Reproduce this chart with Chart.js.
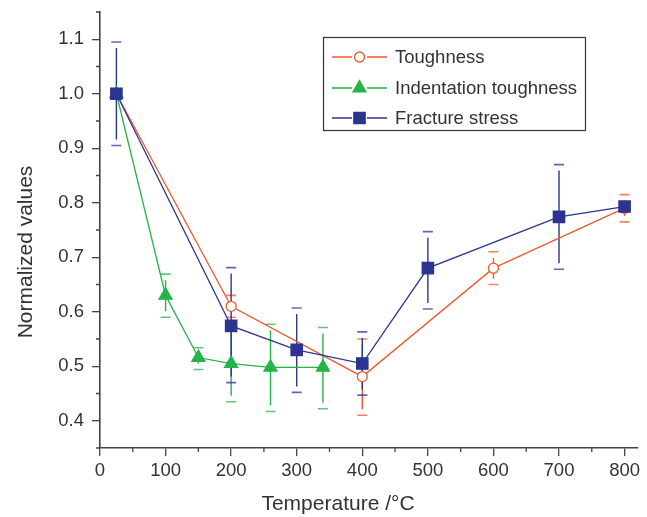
<!DOCTYPE html>
<html>
<head>
<meta charset="utf-8">
<script src="https://cdn.jsdelivr.net/npm/chart.js@4.4.1/dist/chart.umd.min.js"></script>
<style>
  html, body { margin: 0; padding: 0; background: #fff; }
  #wrap { width: 647px; height: 517px; }
</style>
</head>
<body>
<div id="wrap"><canvas id="chart"></canvas></div>
<script>
// tick labels
const xTicks = [0, 100, 200, 300, 400, 500, 600, 700, 800];
const yTicks = [0.4, 0.5, 0.6, 0.7, 0.8, 0.9, 1.0, 1.1];

// Toughness
const toughX  = [25, 200, 400, 600, 800];
const toughY  = [1.0, 0.61, 0.481, 0.68, 0.79];
const toughHi = [null, 0.63, 0.55, 0.71, 0.815];
const toughLo = [null, 0.59, 0.41, 0.65, 0.765];

// Indentation toughness
const indX  = [25, 100, 150, 200, 260, 340];
const indY  = [1.0, 0.63, 0.516, 0.505, 0.498, 0.498];
const indHi = [null, 0.669, 0.534, 0.575, 0.577, 0.571];
const indLo = [null, 0.59, 0.494, 0.435, 0.417, 0.422];

// Fracture stress
const fracX  = [25, 200, 300, 400, 500, 700, 800];
const fracY  = [1.0, 0.574, 0.53, 0.505, 0.68, 0.774, 0.793];
const fracHi = [1.095, 0.681, 0.607, 0.563, 0.747, 0.87, null];
const fracLo = [0.905, 0.47, 0.452, 0.447, 0.605, 0.678, null];

const ORANGE = '#ef5a2a', GREEN = '#25b34b', NAVY = '#2b3491';
const FONT = 'Arial, "Liberation Sans", Helvetica, sans-serif';

const pts = (xs, ys) => xs.map((x, i) => ({ x, y: ys[i] }));

const series = [
  { label: 'Toughness', color: ORANGE, style: 'circle', radius: 5, fill: '#fff', hi: toughHi, lo: toughLo, xs: toughX },
  { label: 'Indentation toughness', color: GREEN, style: 'triangle', radius: 7.5, fill: GREEN, hi: indHi, lo: indLo, xs: indX },
  { label: 'Fracture stress', color: NAVY, style: 'rect', radius: 8, fill: NAVY, hi: fracHi, lo: fracLo, xs: fracX }
];

// error bars, drawn under the markers
const errorBars = {
  id: 'errorBars',
  beforeDatasetsDraw(chart) {
    const { ctx, scales: { x, y } } = chart;
    ctx.save();
    series.forEach(s => {
      s.xs.forEach((xv, i) => {
        if (s.hi[i] == null) return;
        const px = x.getPixelForValue(xv);
        const pHi = y.getPixelForValue(s.hi[i]);
        const pLo = y.getPixelForValue(s.lo[i]);
        ctx.strokeStyle = s.color;
        ctx.lineWidth = 1.4;
        ctx.globalAlpha = 1;
        ctx.beginPath();
        ctx.moveTo(px, pHi + 6); ctx.lineTo(px, pLo - 6);
        ctx.stroke();
        ctx.globalAlpha = 0.75;
        ctx.lineWidth = 1.6;
        ctx.beginPath();
        ctx.moveTo(px - 5, pHi); ctx.lineTo(px + 5, pHi);
        ctx.moveTo(px - 5, pLo); ctx.lineTo(px + 5, pLo);
        ctx.stroke();
      });
    });
    ctx.restore();
  }
};

// minor ticks, axis titles and boxed legend
const decorations = {
  id: 'decorations',
  afterDraw(chart) {
    const { ctx, scales: { x, y }, chartArea } = chart;
    ctx.save();
    ctx.strokeStyle = '#444';
    ctx.lineWidth = 1.3;
    ctx.beginPath();
    for (let i = 0; i < xTicks.length; i++) {
      const m = xTicks[i] + 50;
      if (m > x.max) break;
      const px = x.getPixelForValue(m);
      ctx.moveTo(px, chartArea.bottom); ctx.lineTo(px, chartArea.bottom + 4);
    }
    for (let i = 0; i < yTicks.length; i++) {
      const m = yTicks[i] - 0.05;
      const py = y.getPixelForValue(m);
      ctx.moveTo(chartArea.left, py); ctx.lineTo(chartArea.left - 4, py);
    }
    const top = y.getPixelForValue(yTicks[yTicks.length - 1] + 0.05);
    ctx.moveTo(chartArea.left, top); ctx.lineTo(chartArea.left - 4, top);
    ctx.stroke();

    // axis titles
    ctx.fillStyle = '#333';
    ctx.font = '21px ' + FONT;
    ctx.textAlign = 'center';
    ctx.textBaseline = 'middle';
    ctx.fillText('Temperature /°C', 338, 504);
    ctx.save();
    ctx.translate(26, 252);
    ctx.rotate(-Math.PI / 2);
    ctx.fillText('Normalized values', 0, 0);
    ctx.restore();

    // legend
    ctx.strokeStyle = '#333';
    ctx.lineWidth = 1.2;
    ctx.strokeRect(323.5, 37.5, 262, 93);
    ctx.font = '18.5px ' + FONT;
    ctx.textAlign = 'left';
    const rows = [57, 88, 118];
    series.forEach((s, i) => {
      const ry = rows[i];
      ctx.strokeStyle = s.color;
      ctx.lineWidth = 1.3;
      ctx.beginPath();
      ctx.moveTo(332, ry); ctx.lineTo(352, ry);
      ctx.moveTo(367, ry); ctx.lineTo(387, ry);
      ctx.stroke();
      ctx.fillStyle = s.fill;
      ctx.strokeStyle = s.color;
      ctx.lineWidth = 1.3;
      Chart.helpers.drawPoint(ctx, { pointStyle: s.style, radius: s.radius, rotation: 0, borderWidth: 1.3 }, 359.5, ry);
      ctx.fillStyle = '#333';
      ctx.fillText(s.label, 395, ry + 1);
    });
    ctx.restore();
  }
};

const mkSet = (s, ys, order) => ({
  label: s.label,
  data: pts(s.xs, ys),
  showLine: true,
  borderColor: s.color,
  borderWidth: 1.3,
  tension: 0,
  pointStyle: s.style,
  pointRadius: s.radius,
  pointBackgroundColor: s.fill,
  pointBorderColor: s.color,
  pointBorderWidth: 1.3,
  order
});

new Chart(document.getElementById('chart'), {
  type: 'line',
  data: {
    datasets: [
      mkSet(series[0], toughY, 1),
      mkSet(series[1], indY, 2),
      mkSet(series[2], fracY, 0)
    ]
  },
  options: {
    responsive: true,
    maintainAspectRatio: false,
    animation: false,
    layout: { padding: { top: 12, right: 9, left: 0, bottom: 0 } },
    plugins: { legend: { display: false }, tooltip: { enabled: false } },
    scales: {
      x: {
        type: 'linear',
        min: 0, max: 820,
        afterBuildTicks: sc => { sc.ticks = xTicks.map(v => ({ value: v })); },
        afterFit: sc => { sc.height = 69; sc.paddingLeft = 0; sc.paddingRight = 0; },
        grid: { display: true, drawOnChartArea: false, drawTicks: true, tickLength: 8, color: '#444', lineWidth: 1.3 },
        border: { display: true, color: '#444', width: 1.6 },
        ticks: { color: '#333', font: { size: 18.5, family: FONT }, padding: 4, maxRotation: 0, autoSkip: false }
      },
      y: {
        type: 'linear',
        min: 0.35, max: 1.15,
        afterBuildTicks: sc => { sc.ticks = yTicks.map(v => ({ value: v })); },
        afterFit: sc => { sc.width = 100; sc.paddingTop = 0; sc.paddingBottom = 0; },
        grid: { display: true, drawOnChartArea: false, drawTicks: true, tickLength: 8, color: '#444', lineWidth: 1.3 },
        border: { display: true, color: '#444', width: 1.6 },
        ticks: { color: '#333', font: { size: 18.5, family: FONT }, padding: 8, autoSkip: false,
          callback: v => Number(v).toFixed(1) }
      }
    }
  },
  plugins: [errorBars, decorations]
});
</script>
</body>
</html>
